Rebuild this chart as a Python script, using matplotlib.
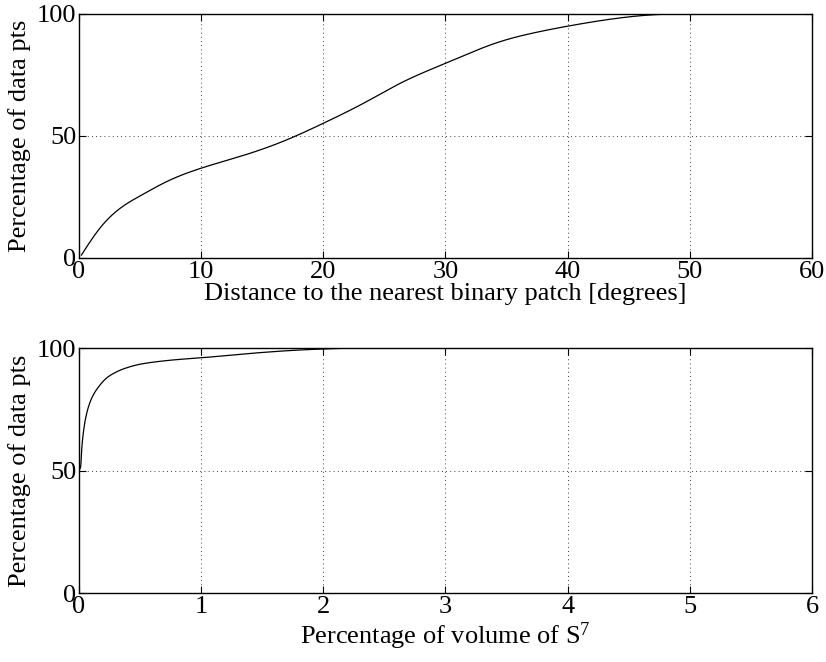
import numpy as np
import matplotlib
matplotlib.use("Agg")
import matplotlib.pyplot as plt

plt.rcParams['font.family'] = ['Liberation Serif', 'DejaVu Serif']
plt.rcParams['mathtext.fontset'] = 'custom'
plt.rcParams['mathtext.rm'] = 'Liberation Serif'
plt.rcParams['mathtext.it'] = 'Liberation Serif:italic'

# cumulative share of data points vs. angular distance to nearest binary patch
dist_deg = [0.2, 1.6, 3.2, 5.13, 7.18, 10, 14, 17, 20, 23.55, 26.3, 30, 34.5, 37, 40, 43, 46, 48, 50]
pct_dist = [1.2, 11.5, 19.7, 25.8, 31.3, 36.8, 42.9, 48.4, 55.2, 64.1, 71.6, 79.8, 88.7, 92, 95, 97.5, 99.3, 99.9, 100]

# cumulative share of data points vs. percentage of volume of S^7
vol_pct = [0, 0.014, 0.022, 0.035, 0.063, 0.104, 0.172, 0.24, 0.377, 0.513, 0.786, 1.0, 1.4, 1.81, 2.0, 2.3]
pct_vol = [50, 51.6, 58.4, 65.2, 73.3, 79.5, 84.9, 88.3, 91.7, 93.5, 95.2, 96.0, 97.8, 99.2, 99.6, 100]


def spline(xs, ys, n=600):
    # natural cubic spline through the points
    xs = np.asarray(xs, float); ys = np.asarray(ys, float)
    k = len(xs); h = np.diff(xs)
    A = np.zeros((k, k)); b = np.zeros(k)
    A[0, 0] = A[-1, -1] = 1
    for i in range(1, k - 1):
        A[i, i-1] = h[i-1]; A[i, i] = 2*(h[i-1] + h[i]); A[i, i+1] = h[i]
        b[i] = 6*((ys[i+1] - ys[i])/h[i] - (ys[i] - ys[i-1])/h[i-1])
    M = np.linalg.solve(A, b)
    xx = np.linspace(xs[0], xs[-1], n)
    j = np.clip(np.searchsorted(xs, xx) - 1, 0, k - 2)
    a = xs[j+1] - xx; c = xx - xs[j]
    yy = (M[j]*a**3 + M[j+1]*c**3)/(6*h[j]) + (ys[j]/h[j] - M[j]*h[j]/6)*a \
        + (ys[j+1]/h[j] - M[j+1]*h[j]/6)*c
    return xx, np.minimum(yy, 100)


def pchip(xs, ys, n=600):
    # monotone cubic through the points (no overshoot near the steep start)
    xs = np.asarray(xs, float); ys = np.asarray(ys, float)
    h = np.diff(xs); d = np.diff(ys) / h
    m = np.zeros_like(xs)
    for k in range(1, len(xs) - 1):
        if d[k-1] * d[k] > 0:
            w1 = 2*h[k] + h[k-1]; w2 = h[k] + 2*h[k-1]
            m[k] = (w1 + w2) / (w1/d[k-1] + w2/d[k])
    m[0] = d[0]; m[-1] = 0
    xx = np.concatenate([np.linspace(0, 0.1, 200), np.linspace(0.1, xs[-1], n)[1:]])
    idx = np.clip(np.searchsorted(xs, xx) - 1, 0, len(xs) - 2)
    t = (xx - xs[idx]) / h[idx]
    h00 = 2*t**3 - 3*t**2 + 1; h10 = t**3 - 2*t**2 + t
    h01 = -2*t**3 + 3*t**2; h11 = t**3 - t**2
    yy = h00*ys[idx] + h10*h[idx]*m[idx] + h01*ys[idx+1] + h11*h[idx]*m[idx+1]
    return xx, yy


fig = plt.figure(figsize=(8.26, 6.62), dpi=100)
ax1 = fig.add_axes([0.0956, 0.6103, 0.8874, 0.3686])
ax2 = fig.add_axes([0.0956, 0.1042, 0.8874, 0.3701])

fs = 19
for ax in (ax1, ax2):
    ax.set_ylim(0, 100)
    ax.set_yticks([0, 50, 100])
    ax.grid(True, color='k', linestyle=(0, (1, 4)), linewidth=0.6)
    ax.tick_params(direction='in', top=True, right=True, length=5, width=0.8,
                   labelsize=fs, pad=2)
    for s in ax.spines.values():
        s.set_linewidth(1.0)
    ax.set_ylabel('Percentage of data pts', fontsize=fs, labelpad=4)

xx, yy = spline(dist_deg, pct_dist)
ax1.plot(xx, yy, color='k', linewidth=0.9)
ax1.set_xlim(0, 60)
ax1.set_xticks(np.arange(0, 61, 10))
ax1.set_xlabel('Distance to the nearest binary patch [degrees]', fontsize=fs, labelpad=0)

xx, yy = pchip(vol_pct, pct_vol)
ax2.plot(xx, yy, color='k', linewidth=0.9)
ax2.set_xlim(0, 6)
ax2.set_xticks(np.arange(0, 7, 1))
ax2.set_xlabel('Percentage of volume of S$^{7}$', fontsize=fs, labelpad=2)

fig.savefig('out.png', dpi=100)
